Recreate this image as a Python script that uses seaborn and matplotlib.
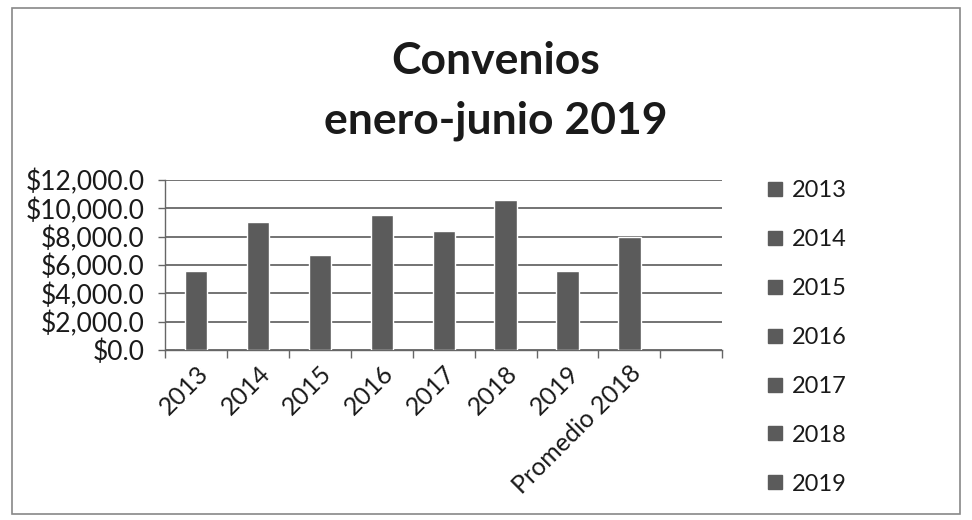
import numpy as np
import pandas as pd
import seaborn as sns
import matplotlib.pyplot as plt
from matplotlib.lines import Line2D
from matplotlib.patches import Rectangle
from matplotlib.ticker import FuncFormatter, FixedLocator

# data
categorias = ['2013', '2014', '2015', '2016', '2017', '2018', '2019', 'Promedio 2018']
montos = [5600, 9000, 6700, 9500, 8400, 10600, 5600, 8000]
leyenda = ['2013', '2014', '2015', '2016', '2017', '2018', '2019']

df = pd.DataFrame({'cat': categorias, 'monto': montos})

sns.set_style('white')
plt.rcParams['font.family'] = ['Lato', 'DejaVu Sans']

fig = plt.figure(figsize=(9.72, 5.2), dpi=100)
ax = fig.add_axes([0.170, 0.327, 0.573, 0.327])

bar_col = '#5b5b5b'
sns.barplot(data=df, x='cat', y='monto', color=bar_col, width=0.36,
            saturation=1, ax=ax, zorder=3)

ax.set_xlim(-0.5, 8.5)
ax.set_ylim(0, 12000)
ax.set_yticks(np.arange(0, 12001, 2000))
ax.yaxis.set_major_formatter(FuncFormatter(lambda v, p: '${:,.1f}'.format(v)))
ax.grid(axis='y', color='#4d4d4d', linewidth=1.1, zorder=0)
ax.set_xlabel('')
ax.set_ylabel('')

# category labels centered on bars, tick marks between categories
ax.set_xticks(range(len(categorias)))
ax.set_xticklabels(categorias, rotation=45, ha='right', rotation_mode='anchor')
ax.tick_params(axis='x', which='major', length=0, pad=8, labelsize=18, labelcolor='#1a1a1a')
ax.xaxis.set_minor_locator(FixedLocator(np.arange(-0.5, 9, 1.0)))
ax.tick_params(axis='x', which='minor', length=6, width=1, color='#666666', direction='out', bottom=True)
ax.tick_params(axis='y', which='major', length=5, width=1, color='#666666', direction='out',
               left=True, labelsize=19, labelcolor='#1a1a1a', pad=10)

for s in ['top', 'right']:
    ax.spines[s].set_visible(False)
for s in ['left', 'bottom']:
    ax.spines[s].set_color('#666666')
    ax.spines[s].set_linewidth(1)

fig.text(0.51, 0.882, 'Convenios', ha='center', va='center', fontsize=32,
         fontweight='bold', color='#1a1a1a')
fig.text(0.51, 0.767, 'enero-junio 2019', ha='center', va='center', fontsize=32,
         fontweight='bold', color='#1a1a1a')

handles = [Line2D([0], [0], marker='s', linestyle='none', markersize=10,
                  markerfacecolor=bar_col, markeredgecolor=bar_col) for _ in leyenda]
leg = fig.legend(handles, leyenda, loc='upper left', bbox_to_anchor=(0.765, 0.694),
                 frameon=False, fontsize=17, labelspacing=1.18, handletextpad=0.25,
                 handlelength=0.9)
for t in leg.get_texts():
    t.set_color('#1a1a1a')

fig.patches.append(Rectangle((0.012, 0.012), 0.976, 0.972, transform=fig.transFigure,
                             fill=False, edgecolor='#888888', linewidth=1.2))

fig.savefig('out.png', dpi=100)
